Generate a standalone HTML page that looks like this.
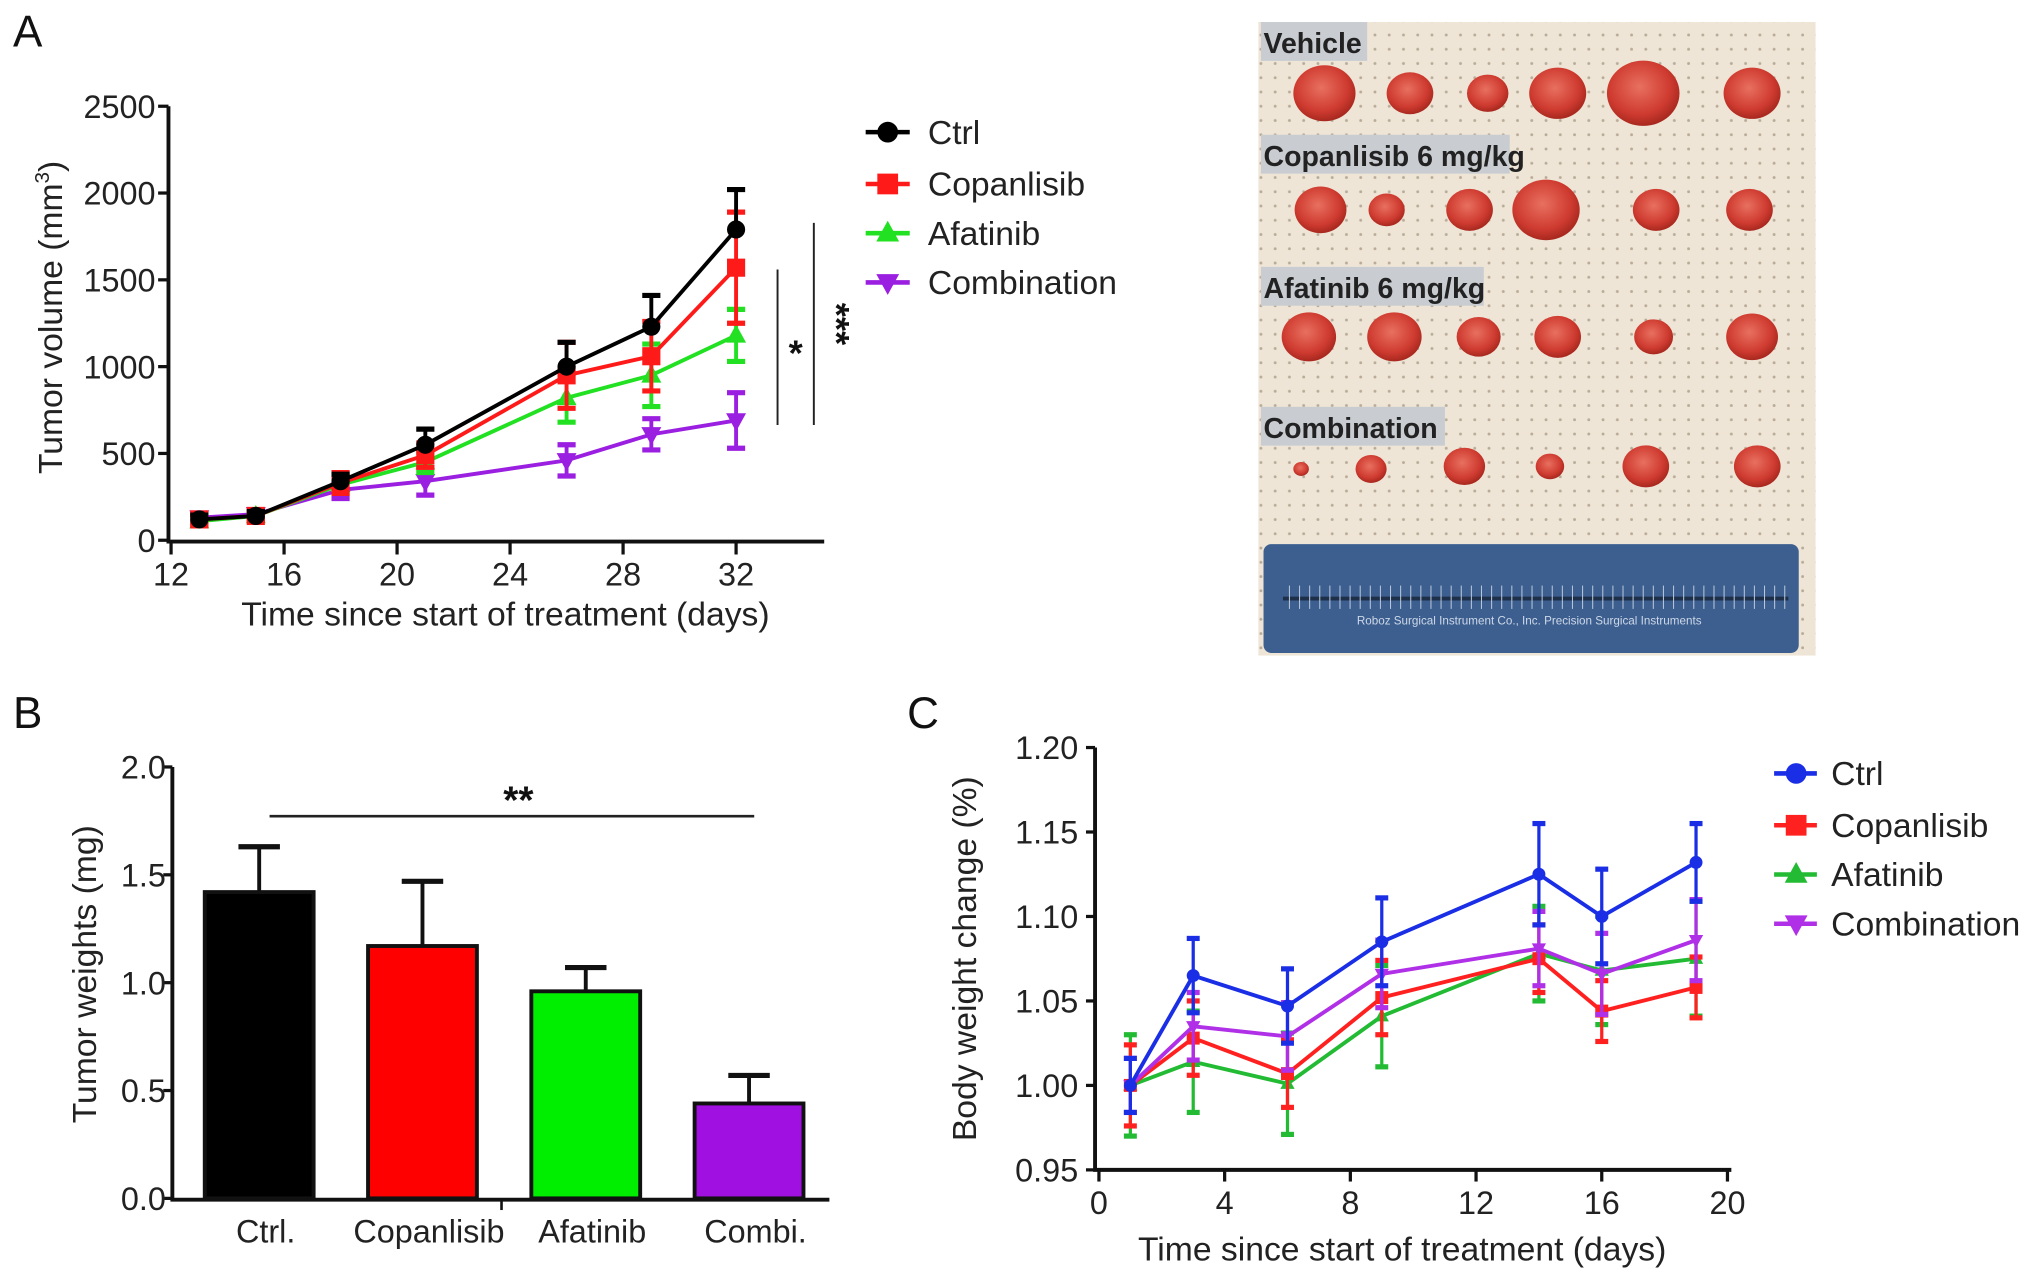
<!DOCTYPE html>
<html><head><meta charset="utf-8">
<style>
html,body{margin:0;padding:0;background:#fff;}
svg{display:block;font-family:"Liberation Sans",Arial,sans-serif;}
</style></head>
<body>
<svg id="fig" width="2032" height="1280" viewBox="0 0 1568 988" preserveAspectRatio="none" xmlns="http://www.w3.org/2000/svg">
<defs>
<pattern id="dots" width="11" height="11" patternUnits="userSpaceOnUse"><circle cx="5" cy="5" r="1.1" fill="#b8ab98"/></pattern>
<radialGradient id="tum" cx="45%" cy="40%" r="60%"><stop offset="0" stop-color="#e8705f"/><stop offset="0.7" stop-color="#cf3b30"/><stop offset="1" stop-color="#a8281f"/></radialGradient>
</defs>
<g id="panelA"></g>
<g id="photo"></g>
<g id="panelB"></g>
<g id="panelC"></g>
</svg>
<script>
// ---------- Panel A data ----------
const aDays = [13,15,18,21,26,29,32];
const aXTicks = [12,16,20,24,28,32];
const aYTicks = [0,500,1000,1500,2000,2500];
const aSeriesNames = ["Ctrl","Copanlisib","Afatinib","Combination"];
const aCtrl = [120,140,340,550,1000,1230,1790];
const aCtrlErr = [25,25,40,90,140,180,230];
const aCop = [120,140,330,490,950,1060,1570];
const aCopErr = [25,25,60,70,190,200,320];
const aAfa = [110,140,320,450,820,950,1180];
const aAfaErr = [25,25,50,60,140,180,150];
const aComb = [130,150,290,340,460,610,690];
const aCombErr = [25,25,50,80,90,90,160];

// ---------- Panel B data ----------
const bCats = ["Ctrl.","Copanlisib","Afatinib","Combi."];
const bVals = [1.42,1.17,0.96,0.44];
const bErr = [0.21,0.30,0.11,0.13];
const bYTicks = ["0.0","0.5","1.0","1.5","2.0"];

// ---------- Panel C data ----------
const cDays = [1,3,6,9,14,16,19];
const cXTicks = [0,4,8,12,16,20];
const cYTicks = ["0.95","1.00","1.05","1.10","1.15","1.20"];
const cCtrl = [1.000,1.065,1.047,1.085,1.125,1.100,1.132];
const cCtrlErr = [0.016,0.022,0.022,0.026,0.030,0.028,0.023];
const cCop = [1.000,1.028,1.007,1.052,1.075,1.044,1.058];
const cCopErr = [0.024,0.022,0.020,0.022,0.020,0.018,0.018];
const cAfa = [1.000,1.014,1.001,1.041,1.078,1.068,1.075];
const cAfaErr = [0.030,0.030,0.030,0.030,0.028,0.032,0.034];
const cComb = [1.000,1.035,1.029,1.066,1.081,1.066,1.086];
const cCombErr = [0.016,0.020,0.020,0.020,0.022,0.024,0.024];

const NS="http://www.w3.org/2000/svg";
function mk(parent,tag,attrs,text){const e=document.createElementNS(NS,tag);for(const k in attrs)e.setAttribute(k,attrs[k]);if(text!==undefined)e.textContent=text;parent.appendChild(e);return e;}
function marker(g,shape,x,y,c,s){
  if(shape==="circle") return mk(g,"circle",{cx:x,cy:y,r:s,fill:c});
  if(shape==="square") return mk(g,"rect",{x:x-s,y:y-s,width:2*s,height:2*s,fill:c});
  if(shape==="up") return mk(g,"polygon",{points:`${x},${y-s*1.2} ${x-s*1.1},${y+s*0.8} ${x+s*1.1},${y+s*0.8}`,fill:c});
  if(shape==="down") return mk(g,"polygon",{points:`${x},${y+s*1.2} ${x-s*1.1},${y-s*0.8} ${x+s*1.1},${y-s*0.8}`,fill:c});
  if(shape==="diamond") return mk(g,"polygon",{points:`${x},${y-s} ${x+s*0.8},${y} ${x},${y+s} ${x-s*0.8},${y}`,fill:c});
  if(shape==="plus"){mk(g,"rect",{x:x-s,y:y-2,width:2*s,height:4,fill:c});return mk(g,"rect",{x:x-2,y:y-s,width:4,height:2*s,fill:c});}
}

// ================= Panel A =================
(function(){
const g=document.getElementById("panelA");
const X=d=>132+(d-12)*(568-132)/20, Y=v=>417-v*(417-82)/2500;
let t=mk(g,"text",{x:10,y:36,"font-size":34,fill:"#111"},"A");


let ax=mk(g,"path",{d:`M130,${Y(2500)} V418 H636`,stroke:"#111","stroke-width":3,fill:"none"});


aYTicks.forEach(v=>{mk(g,"line",{x1:122,x2:130,y1:Y(v),y2:Y(v),stroke:"#111","stroke-width":2.5});
 const l=mk(g,"text",{x:120,y:Y(v)+9,"font-size":25,"text-anchor":"end",fill:"#222"},v);
 
 });
aXTicks.forEach(v=>{mk(g,"line",{x1:X(v),x2:X(v),y1:418,y2:428,stroke:"#111","stroke-width":2.5});
 const l=mk(g,"text",{x:X(v),y:452,"font-size":25,"text-anchor":"middle",fill:"#222"},v);
 
 });
let xt=mk(g,"text",{x:390,y:483,"font-size":26,"text-anchor":"middle",fill:"#222"},"Time since start of treatment (days)");


let yt=mk(g,"text",{x:0,y:0,"font-size":26,"text-anchor":"middle",fill:"#222",transform:"translate(48,245) rotate(-90)"});


yt.innerHTML='Tumor volume (mm<tspan dy="-10" font-size="16">3</tspan><tspan dy="10">)</tspan>';
const series=[[aComb,aCombErr,"#9b1fe0","down",false],[aAfa,aAfaErr,"#22e022","up",false],[aCop,aCopErr,"#ff1a1a","square",false],[aCtrl,aCtrlErr,"#000","circle",true]];
const names=["series-combination","series-afatinib","series-copanlisib","series-ctrl"];
series.forEach((s,i)=>{
 const sg=mk(g,"g",{});
 
 
 mk(sg,"polyline",{points:aDays.map((d,j)=>X(d)+","+Y(s[0][j])).join(" "),fill:"none",stroke:s[2],"stroke-width":3});
 aDays.forEach((d,j)=>{const x=X(d),y=Y(s[0][j]),hi=Y(s[0][j]+s[1][j]),lo=Y(s[0][j]-s[1][j]);
  mk(sg,"line",{x1:x,x2:x,y1:hi,y2:s[4]?y:lo,stroke:s[2],"stroke-width":3});
  mk(sg,"line",{x1:x-7,x2:x+7,y1:hi,y2:hi,stroke:s[2],"stroke-width":4});
  if(!s[4])mk(sg,"line",{x1:x-7,x2:x+7,y1:lo,y2:lo,stroke:s[2],"stroke-width":4});
  const m=marker(sg,s[3],x,y,s[2],7);
  
  });
});
mk(g,"line",{x1:600,x2:600,y1:208,y2:328,stroke:"#222","stroke-width":1.5});
mk(g,"line",{x1:628,x2:628,y1:172,y2:328,stroke:"#222","stroke-width":1.5});
let s1=mk(g,"text",{x:614,y:282,"font-size":28,"font-weight":"bold","text-anchor":"middle",fill:"#111"},"*");


let s3=mk(g,"text",{x:0,y:0,"font-size":28,"font-weight":"bold","text-anchor":"middle",fill:"#111",transform:"translate(636,250) rotate(90)"},"***");


const leg=[["#000","circle"],["#ff1a1a","square"],["#22e022","up"],["#9b1fe0","down"]];
const ly=[102,142,180,218];
leg.forEach((l,i)=>{const lg=mk(g,"g",{});
 
 
 mk(lg,"line",{x1:668,x2:702,y1:ly[i],y2:ly[i],stroke:l[0],"stroke-width":3.5});
 marker(lg,l[1],685,ly[i],l[0],8);
 mk(lg,"text",{x:716,y:ly[i]+9,"font-size":26,fill:"#222"},aSeriesNames[i]);});
})();

// ================= Photo =================
(function(){
const g=document.getElementById("photo");
mk(g,"rect",{x:971,y:17,width:430,height:489,fill:"#efe5d6"});
mk(g,"rect",{x:971,y:17,width:430,height:489,fill:"url(#dots)"});
const labels=[["Vehicle",33,82],["Copanlisib 6 mg/kg",120,192],["Afatinib 6 mg/kg",222,172],["Combination",330,142]];
labels.forEach(l=>{mk(g,"rect",{x:973,y:l[1]-16,width:l[2],height:30,fill:"#c9cdd2"});
 const t=mk(g,"text",{x:975,y:l[1]+8,"font-size":22,"font-weight":"bold",fill:"#222"},l[0]);
 
 });
const rows=[[72,[[1022,24],[1088,18],[1148,16],[1202,22],[1268,28],[1352,22]]],
 [162,[[1019,20],[1070,14],[1134,18],[1193,26],[1278,18],[1350,18]]],
 [260,[[1010,21],[1076,21],[1141,17],[1202,18],[1276,15],[1352,20]]],
 [360,[[1004,6],[1058,12],[1130,16],[1196,11],[1270,18],[1356,18]]]];
rows.forEach(r=>r[1].forEach(c=>{const e=mk(g,"ellipse",{cx:c[0],cy:r[0]+(r[0]===360&&c[0]<1070?2:0),rx:c[1],ry:c[1]*0.9,fill:"url(#tum)"});
 
 }));
let rl=mk(g,"rect",{x:975,y:420,width:413,height:84,rx:6,fill:"#3d5f8f"});


mk(g,"line",{x1:990,x2:1380,y1:462,y2:462,stroke:"#1e2f4a","stroke-width":3});
for(let x=995;x<1380;x+=7.8){mk(g,"line",{x1:x,x2:x,y1:452,y2:470,stroke:"#b8c6da","stroke-width":0.8});}
mk(g,"text",{x:1180,y:482,"font-size":9,"text-anchor":"middle",fill:"#cdd8e8"},"Roboz Surgical Instrument Co., Inc.    Precision Surgical Instruments");
})();

// ================= Panel B =================
(function(){
const g=document.getElementById("panelB");
const Y=v=>925-v*(925-592)/2;
let t=mk(g,"text",{x:10,y:562,"font-size":34,fill:"#111"},"B");


mk(g,"path",{d:`M133,${Y(2)} V926 H640`,stroke:"#111","stroke-width":3,fill:"none"});
bYTicks.forEach(v=>{const y=Y(parseFloat(v));mk(g,"line",{x1:126,x2:133,y1:y,y2:y,stroke:"#111","stroke-width":2.5});
 const l=mk(g,"text",{x:128,y:y+9,"font-size":25,"text-anchor":"end",fill:"#222"},v);
 
 });
mk(g,"line",{x1:387,x2:387,y1:926,y2:934,stroke:"#111","stroke-width":2});
let yt=mk(g,"text",{x:0,y:0,"font-size":26,"text-anchor":"middle",fill:"#222",transform:"translate(74,752) rotate(-90)"},"Tumor weights (mg)");


const cols=["#000","#ff0000","#00ee00","#a010e0"];
bCats.forEach((c,i)=>{const cx=200+i*126,w=84,x=cx-w/2,y=Y(bVals[i]),hi=Y(bVals[i]+bErr[i]);
 mk(g,"line",{x1:cx,x2:cx,y1:hi,y2:y,stroke:"#111","stroke-width":3});
 mk(g,"line",{x1:cx-16,x2:cx+16,y1:hi,y2:hi,stroke:"#111","stroke-width":4});
 const b=mk(g,"rect",{x:x,y:y,width:w,height:925-y,fill:cols[i],stroke:"#111","stroke-width":3});
 
 
 const l=mk(g,"text",{x:cx+5,y:959,"font-size":25,"text-anchor":"middle",fill:"#222"},c);
 
 });
mk(g,"line",{x1:208,x2:582,y1:630,y2:630,stroke:"#222","stroke-width":2});
let st=mk(g,"text",{x:400,y:628,"font-size":30,"font-weight":"bold","text-anchor":"middle",fill:"#111"},"**");


})();

// ================= Panel C =================
(function(){
const g=document.getElementById("panelC");
const X=d=>848+d*(1333-848)/20, Y=v=>903-(v-0.95)*(903-577)/0.25;
let t=mk(g,"text",{x:700,y:562,"font-size":34,fill:"#111"},"C");


mk(g,"path",{d:`M845,${Y(1.2)} V903 H1336`,stroke:"#111","stroke-width":3,fill:"none"});
cYTicks.forEach(v=>{const y=Y(parseFloat(v));mk(g,"line",{x1:838,x2:845,y1:y,y2:y,stroke:"#111","stroke-width":2.5});
 const l=mk(g,"text",{x:832,y:y+9,"font-size":25,"text-anchor":"end",fill:"#222"},v);
 
 });
cXTicks.forEach(v=>{mk(g,"line",{x1:X(v),x2:X(v),y1:903,y2:912,stroke:"#111","stroke-width":2.5});
 const l=mk(g,"text",{x:X(v),y:937,"font-size":25,"text-anchor":"middle",fill:"#222"},v);
 
 });
let xt=mk(g,"text",{x:1082,y:973,"font-size":26,"text-anchor":"middle",fill:"#222"},"Time since start of treatment (days)");


let yt=mk(g,"text",{x:0,y:0,"font-size":26,"text-anchor":"middle",fill:"#222",transform:"translate(753,740) rotate(-90)"},"Body weight change (%)");


const series=[[cAfa,cAfaErr,"#22bb33","up"],[cCop,cCopErr,"#ff2020","square"],[cComb,cCombErr,"#b030e8","down"],[cCtrl,cCtrlErr,"#1a2ee6","circle"]];
const names=["series-afatinib","series-copanlisib","series-combination","series-ctrl"];
series.forEach((s,i)=>{const sg=mk(g,"g",{});
 
 
 mk(sg,"polyline",{points:cDays.map((d,j)=>X(d)+","+Y(s[0][j])).join(" "),fill:"none",stroke:s[2],"stroke-width":3});
 cDays.forEach((d,j)=>{const x=X(d),y=Y(s[0][j]),hi=Y(s[0][j]+s[1][j]),lo=Y(s[0][j]-s[1][j]);
  mk(sg,"line",{x1:x,x2:x,y1:hi,y2:lo,stroke:s[2],"stroke-width":2.5});
  mk(sg,"line",{x1:x-5,x2:x+5,y1:hi,y2:hi,stroke:s[2],"stroke-width":4});
  mk(sg,"line",{x1:x-5,x2:x+5,y1:lo,y2:lo,stroke:s[2],"stroke-width":4});
  const m=marker(sg,s[3],x,y,s[2],5);
  
  });
});
const leg=[["#1a2ee6","circle"],["#ff2020","square"],["#22bb33","up"],["#b030e8","down"]];
const ly=[597,637,675,713];
leg.forEach((l,i)=>{const lg=mk(g,"g",{});
 
 
 mk(lg,"line",{x1:1369,x2:1402,y1:ly[i],y2:ly[i],stroke:l[0],"stroke-width":3.5});
 marker(lg,l[1],1386,ly[i],l[0],8);
 mk(lg,"text",{x:1413,y:ly[i]+9,"font-size":26,fill:"#222"},aSeriesNames[i]);});
})();
</script>
</body></html>
